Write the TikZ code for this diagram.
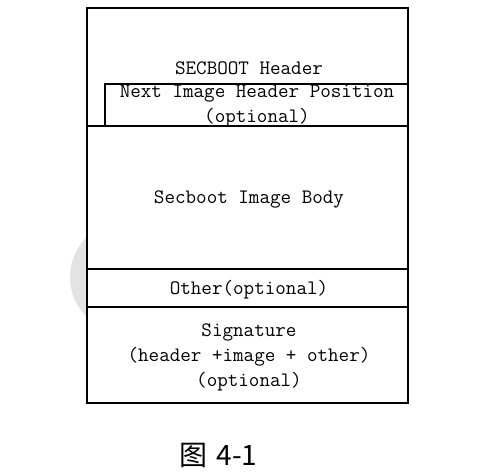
\documentclass[tikz,border=0pt]{standalone}
\usepackage{fontspec}
\newfontfamily\cjk{Noto Sans CJK SC}
\begin{document}
\begin{tikzpicture}[x=1pt,y=-1pt,
  box/.style={draw, line width=1.4pt, fill=white},
  lbl/.style={font=\ttfamily\fontsize{20.5}{25}\selectfont, align=center, inner sep=0pt}]
\useasboundingbox (0,0) rectangle (491,473);
\fill[gray!22] (125.6,277) circle (55.6);
% outer sections
\draw[box] (87,8) rectangle (408,126);
\draw[box] (87,126) rectangle (408,269);
\draw[box] (87,269) rectangle (408,307);
\draw[box] (87,307) rectangle (408,403);
\draw[box] (105,84) rectangle (408,126);
% texts
\node[lbl] (hdr) at (249,68) {SECBOOT Header};
\node[lbl] (nxt) at (257,106.5) {Next Image Header Position\\ (optional) };
\node[lbl] (body) at (249,199) {Secboot Image Body};
\node[lbl] (oth) at (249,290) {Other(optional)};
\node[lbl] (sig) at (249,357) {Signature\\(header +image + other)\\ (optional) };
\node[inner sep=0pt, font=\cjk\fontsize{28}{30}\selectfont] (cap) at (218.5,455) {图\hspace{9pt}4-1};
\end{tikzpicture}
\end{document}
